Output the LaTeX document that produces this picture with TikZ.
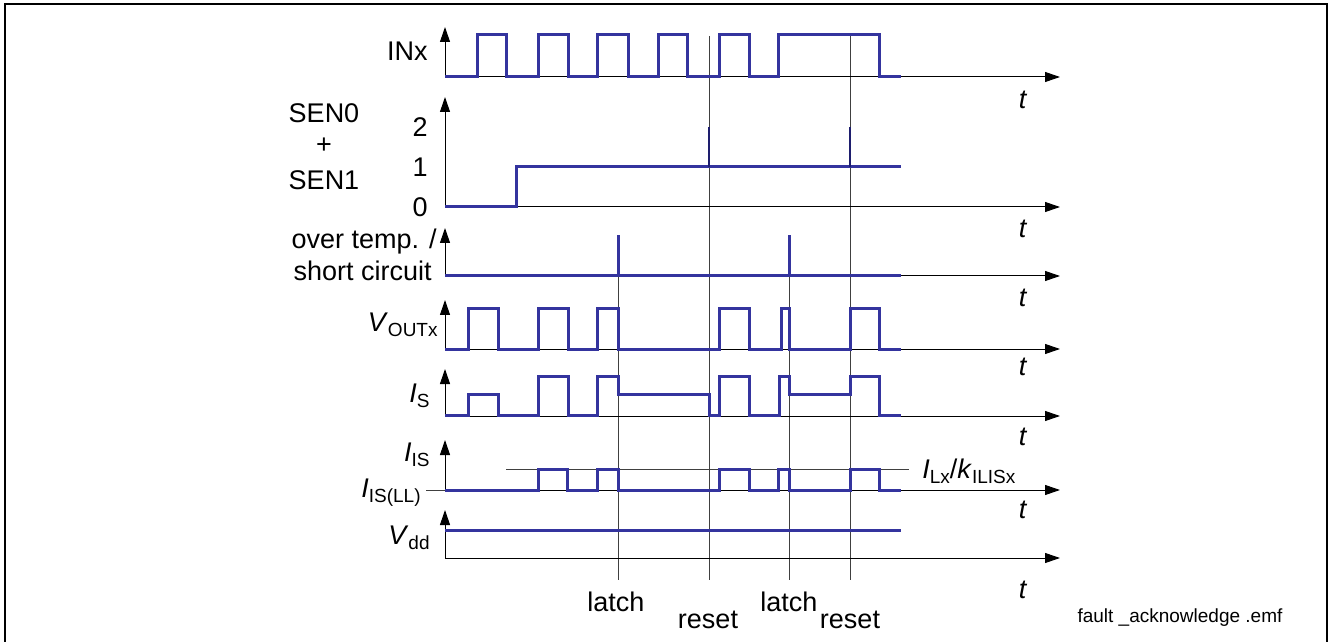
\documentclass[tikz,border=0pt]{standalone}
\usepackage{fontspec}
\setmainfont{Liberation Sans}
\usetikzlibrary{arrows.meta,positioning}
\definecolor{sigblue}{RGB}{52,52,158}
\definecolor{spkblue}{RGB}{30,30,110}
\newcommand{\lowidx}[1]{\raisebox{-0.22em}{\fontsize{9.5}{11}\selectfont #1}}
\tikzset{
  sig/.style={sigblue,line width=1.5pt,line join=miter},
  spike/.style={spkblue,line width=1pt},
  taxis/.style={black,line width=0.5pt,-{Triangle[length=7.5pt,width=5pt]}},
  evline/.style={black!75,line width=0.5pt},
  lbl/.style={font=\fontsize{13.5}{16}\selectfont,inner sep=0pt},
}

\begin{document}
\begin{tikzpicture}[x=0.5pt,y=-0.5pt]
\useasboundingbox (0,0) rectangle (1330,642);
\draw[line width=1pt] (5,642) |- (1327,4) -- (1327,642);
% event lines: latch / reset
\foreach \xx in {618,789} \draw[evline] (\xx,276) -- (\xx,580);
\foreach \xx in {709,850} \draw[evline] (\xx,36) -- (\xx,580);
% axes, one per trace
\foreach \yb/\yt/\yl in {77/27/100,207/97/229,276/228/298,349/300/367,416/369/437,490/440/510,558/510/590} {
  \draw[taxis] (445,\yb) -- (445,\yt);
  \draw[taxis] (445,\yb) -- (1060,\yb);
  \node[lbl] at (1023,\yl) {\textit{t}};
}
% INx
\node[lbl,anchor=east] (lINx) at (428,51) {INx};
\draw[sig] (445,77) -| (477,35) -| (506,77) -| (538,35) -| (568,77) -| (597,35) -| (628,77)
  -| (658,35) -| (687,77) -| (719,35) -| (749,77) -| (778,35) -| (879,77) -- (901,77);
% SEN0 + SEN1
\node[lbl] (lSENa) at (324,113) {SEN0};
\node[lbl] (lplus) at (324,146) {+};
\node[lbl] (lSENb) at (324,180) {SEN1};
\node[lbl,anchor=east] (lv2) at (428,127) {2};
\node[lbl,anchor=east] (lv1) at (428,167) {1};
\node[lbl,anchor=east] (lv0) at (428,207) {0};
\draw[sig] (445,207) -| (516,167) -- (901,167);
\foreach \xx in {709,850} \draw[spike] (\xx,167) -- (\xx,127);
% over temperature / short circuit
\node[lbl,anchor=base east] (lOTa) at (437,249) {over temp. /};
\node[lbl,anchor=base east] (lOTb) at (432,280) {short circuit};
\draw[sig] (445,276) -- (901,276);
\foreach \xx in {618,789} \draw[sig] (\xx,276) -- (\xx,235);
% VOUTx
\node[lbl,anchor=base east] (lVOUT) at (438,331) {\textit{V}\lowidx{OUTx}};
\draw[sig] (445,349) -| (468,309) -| (498,349) -| (538,309) -| (568,349) -| (597,309) -| (618,349)
  -| (719,309) -| (749,349) -| (781,309) -| (789,349) -| (850,309) -| (879,349) -- (901,349);
% IS
\node[lbl,anchor=base east] (lIS) at (430,402) {\textit{I}\lowidx{S}};
\draw[sig] (445,415) -| (468,394) -| (498,415) -| (538,376) -| (568,415) -| (597,376) -| (618,394)
  -| (709,415) -| (719,376) -| (749,415) -| (779,376) -| (789,394) -| (850,376) -| (879,415) -- (901,415);
% IIS
\node[lbl,anchor=base east] (lIIS) at (430,461) {\textit{I}\lowidx{IS}};
\node[lbl,anchor=base east] (lIISLL) at (421,497) {\textit{I}\lowidx{IS(LL)}};
\draw[evline] (506,469) -- (909,469);
\draw[evline] (426,490) -- (445,490);
\node[lbl,anchor=base west] (lthr) at (922,478) {\textit{I}\lowidx{Lx}/\textit{k}\lowidx{ILISx}};
\draw[sig] (445,490) -| (538,469) -| (567,490) -| (597,469) -| (618,490) -| (719,469) -| (749,490)
  -| (778,469) -| (789,490) -| (850,469) -| (879,490) -- (901,490);
% Vdd
\node[lbl,anchor=base east] (lVdd) at (430,544) {\textit{V}\lowidx{dd}};
\draw[sig] (445,530) -- (901,530);
% event names
\node[lbl] (latA) at (616,602) {latch};
\node[lbl] (rstA) at (708,620) {reset};
\node[lbl] (latB) at (789,602) {latch};
\node[lbl] (rstB) at (850,620) {reset};
\node[font=\fontsize{9.5}{11}\selectfont,inner sep=0pt] (fname) at (1180,618) {fault \_acknowledge .emf};
\end{tikzpicture}
\end{document}
